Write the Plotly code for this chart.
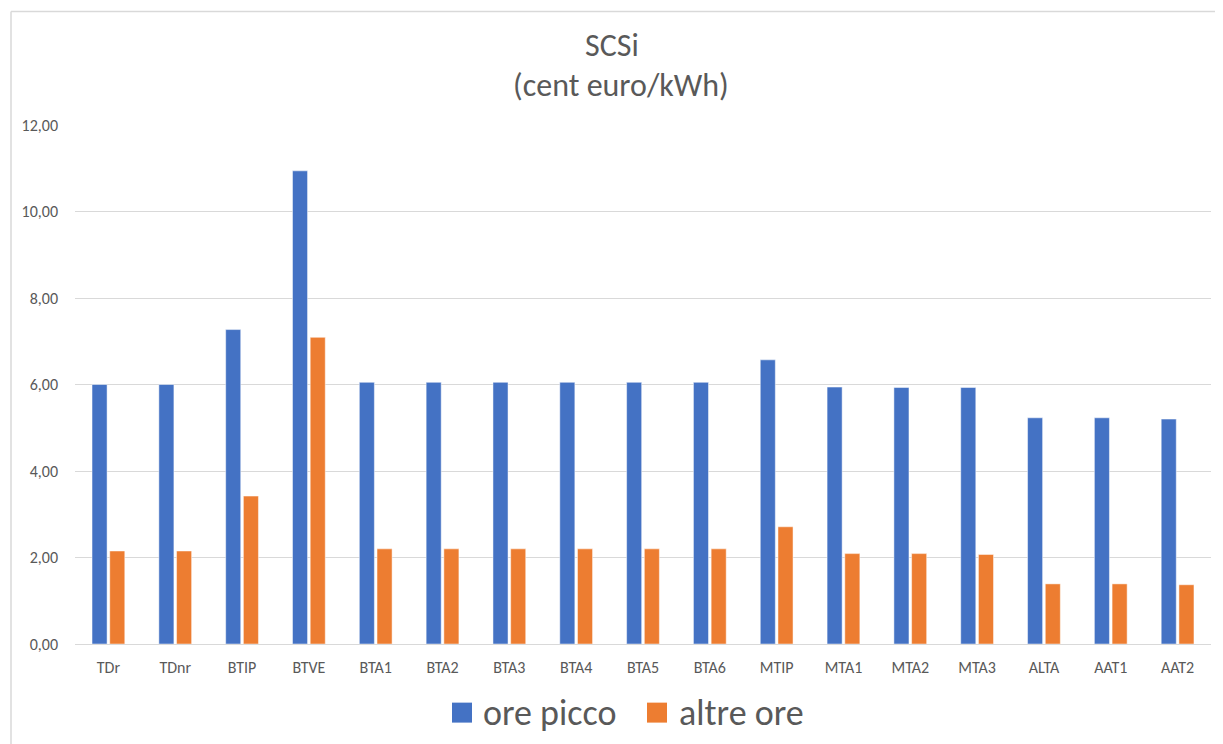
import plotly.graph_objects as go

categories = ["TDr", "TDnr", "BTIP", "BTVE", "BTA1", "BTA2", "BTA3", "BTA4", "BTA5",
              "BTA6", "MTIP", "MTA1", "MTA2", "MTA3", "ALTA", "AAT1", "AAT2"]
ore_picco = [6.00, 6.00, 7.27, 10.94, 6.05, 6.05, 6.05, 6.05, 6.05,
             6.05, 6.57, 5.94, 5.93, 5.93, 5.23, 5.23, 5.20]
altre_ore = [2.15, 2.15, 3.42, 7.09, 2.20, 2.20, 2.20, 2.20, 2.20,
             2.20, 2.71, 2.09, 2.09, 2.07, 1.39, 1.39, 1.37]
series_names = ["ore picco", "altre ore"]
colors = ["#4472C4", "#ED7D31"]
y_ticks = [0, 2, 4, 6, 8, 10, 12]

FONT = "Carlito, Lato, Open Sans, sans-serif"
TXT = "#595959"

fig = go.Figure()
for name, vals, col in zip(series_names, [ore_picco, altre_ore], colors):
    fig.add_trace(go.Bar(x=categories, y=vals, name=name, marker_color=col,
                         marker_line=dict(color="rgba(255,255,255,0.6)", width=0.8),
                         showlegend=False))

OFF = 8  # page body margin
W, H = 1223 - OFF, 744 - OFF
# plot area in page coords: x 75..1211, y 124.7..644.3
L = 75 - OFF
T = 124.7 - OFF
R = W - (1211 - OFF)
B = H - (644.3 - OFF)
pw, ph = W - L - R, H - T - B

def px(x):
    return (x - OFF - L) / pw

def py(y):
    return (H - B - (y - OFF)) / ph

shapes = [
    dict(type="line", xref="paper", yref="paper", x0=px(11), x1=px(1260), y0=py(11), y1=py(11),
         line=dict(color="#d9d9d9", width=1.5)),
    dict(type="line", xref="paper", yref="paper", x0=px(11), x1=px(11), y0=py(11), y1=py(780),
         line=dict(color="#d9d9d9", width=1.5)),
]
annotations = [
    dict(text="SCSi", xref="paper", yref="paper", x=px(612), y=py(45), showarrow=False,
         font=dict(family=FONT, size=32, color=TXT), xanchor="center", yanchor="middle"),
    dict(text="(cent euro/kWh)", xref="paper", yref="paper", x=px(621), y=py(85), showarrow=False,
         font=dict(family=FONT, size=32, color=TXT), xanchor="center", yanchor="middle"),
]
# custom legend
legend_items = [(452, 481, series_names[0], colors[0]), (647, 677, series_names[1], colors[1])]
for sx, tx, name, col in legend_items:
    shapes.append(dict(type="rect", xref="paper", yref="paper", x0=px(sx), x1=px(sx + 20),
                       y0=py(703), y1=py(723), fillcolor=col, line=dict(width=0)))
    annotations.append(dict(text=name, xref="paper", yref="paper", x=px(tx), y=py(713),
                            showarrow=False, xanchor="left", yanchor="middle",
                            font=dict(family=FONT, size=36, color=TXT)))

fig.update_layout(
    width=W, height=H,
    margin=dict(l=L, r=R, t=T, b=B, pad=0),
    paper_bgcolor="white", plot_bgcolor="white",
    barmode="group", bargap=0.47, bargroupgap=0.15,
    separators=",.",
    font=dict(family=FONT, color=TXT),
    shapes=shapes, annotations=annotations,
    showlegend=False,
)
fig.update_xaxes(showgrid=False, showline=False, zeroline=False, ticks="",
                 tickfont=dict(size=16, color=TXT), ticklabelstandoff=12)
fig.update_yaxes(range=[0, 12], tickvals=y_ticks, tickformat=".2f",
                 showgrid=True, gridcolor="#d9d9d9", gridwidth=1.2,
                 zeroline=True, zerolinecolor="#d9d9d9", zerolinewidth=1.2,
                 showline=False, ticks="", tickfont=dict(size=16, color=TXT),
                 ticklabelstandoff=16)

fig.write_html("out.html")
